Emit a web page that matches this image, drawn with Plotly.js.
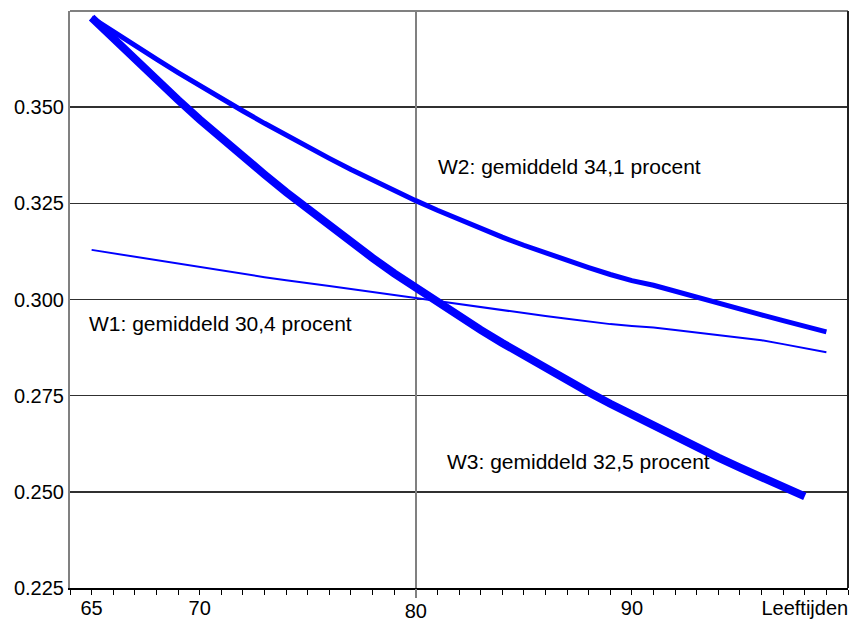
<!DOCTYPE html>
<html>
<head>
<meta charset="utf-8">
<script src="https://cdn.plot.ly/plotly-3.0.1.min.js"></script>
<style>html,body{margin:0;padding:0;background:#fff}#chart{width:853px;height:621px}</style>
</head>
<body>
<div id="chart"></div>
<script>
var ages = [65,66,67,68,69,70,71,72,73,74,75,76,77,78,79,80,81,82,83,84,85,86,87,88,89,90,91,92,93,94,95,96,97,98,99];
var w1 = [0.3129,0.3120,0.3111,0.3102,0.3093,0.3084,0.3075,0.3066,0.3058,0.3050,0.3043,0.3035,0.3027,0.3020,0.3012,0.3004,0.2996,0.2988,0.2981,0.2973,0.2965,0.2957,0.2950,0.2943,0.2936,0.2931,0.2927,0.2921,0.2914,0.2908,0.2901,0.2894,0.2884,0.2873,0.2863];
var w2 = [0.3733,0.3696,0.3660,0.3625,0.3590,0.3556,0.3523,0.3490,0.3458,0.3427,0.3397,0.3367,0.3338,0.3310,0.3283,0.3257,0.3232,0.3208,0.3185,0.3162,0.3141,0.3121,0.3101,0.3083,0.3065,0.3049,0.3037,0.3021,0.3005,0.2990,0.2975,0.2960,0.2945,0.2931,0.2916];
var agesW3 = [65,66,67,68,69,70,71,72,73,74,75,76,77,78,79,80,81,82,83,84,85,86,87,88,89,90,91,92,93,94,95,96,97,98];
var w3 = [0.3733,0.3678,0.3624,0.3570,0.3519,0.3468,0.3419,0.3371,0.3325,0.3279,0.3235,0.3192,0.3150,0.3108,0.3068,0.3030,0.2992,0.2956,0.2921,0.2887,0.2854,0.2822,0.2790,0.2759,0.2729,0.2700,0.2671,0.2643,0.2616,0.2589,0.2563,0.2537,0.2512,0.2488];

var xTickVals = [65,70,90,98];
var xTickText = ['65','70','90','Leeftijden'];
var xGridVals = [80];
var xGridText = ['80'];
var yTickVals = [0.225,0.250,0.275,0.300,0.325,0.350];

var labels = ['W1: gemiddeld 30,4 procent','W2: gemiddeld 34,1 procent','W3: gemiddeld 32,5 procent'];
var labelX = [70.96, 87.1, 87.55];
var labelY = [0.2937, 0.3346, 0.2580];

var blue = '#0000ff';
var font = 'Liberation Sans, Arial, sans-serif';

var traces = [
  {x: ages, y: w1, mode:'lines', line:{color:blue, width:2}, hoverinfo:'skip'},
  {x: ages, y: w2, mode:'lines', line:{color:blue, width:5}, hoverinfo:'skip'},
  {x: agesW3, y: w3, mode:'lines', line:{color:blue, width:8}, hoverinfo:'skip'},
  {x: xGridVals, y: [null], xaxis:'x2', yaxis:'y', mode:'markers', hoverinfo:'skip', showlegend:false}
];

var annotations = labels.map(function(t,i){
  return {x: labelX[i], y: labelY[i], xref:'x', yref:'y', text:t, showarrow:false,
          xanchor:'center', yanchor:'middle', font:{family:font, size:21, color:'#000'}};
});

var layout = {
  width: 853, height: 621,
  margin: {l:70, r:5, t:11, b:33, pad:0},
  paper_bgcolor:'#fff', plot_bgcolor:'#fff',
  showlegend:false,
  font:{family:font, size:20, color:'#000'},
  xaxis: {
    range:[64,100], tickmode:'array', tickvals:xTickVals, ticktext:xTickText,
    showgrid:false, zeroline:false, showline:true, linecolor:'#000', linewidth:2,
    ticks:'outside', ticklen:5, tickcolor:'#000', tickwidth:1, ticklabelstandoff:-4,
    minor:{tickmode:'linear', tick0:65, dtick:1, ticks:'outside', ticklen:5, tickcolor:'#000', tickwidth:1, showgrid:false},
    tickfont:{family:font, size:20, color:'#000'}
  },
  xaxis2: {
    overlaying:'x', anchor:'y', side:'bottom', range:[64,100],
    tickmode:'array', tickvals:xGridVals, ticktext:xGridText,
    showgrid:true, gridcolor:'#808080', gridwidth:2, zeroline:false, showline:false,
    ticks:'outside', ticklen:9, tickcolor:'#808080', tickwidth:2, ticklabelstandoff:-4,
    tickfont:{family:font, size:20, color:'#000'}
  },
  yaxis: {
    range:[0.225,0.375], tickmode:'array', tickvals:yTickVals, tickformat:'.3f',
    showgrid:true, gridcolor:'#303030', gridwidth:1.5, zeroline:false,
    showline:true, linecolor:'#808080', linewidth:2, ticks:'',
    tickfont:{family:font, size:20, color:'#000'}
  },
  shapes: [
    {type:'line', xref:'paper', yref:'paper', x0:0, x1:1, y0:1, y1:1, line:{color:'#808080', width:2}},
    {type:'line', xref:'paper', yref:'paper', x0:1, x1:1, y0:0, y1:1, line:{color:'#202020', width:2}}
  ],
  annotations: annotations
};

Plotly.newPlot('chart', traces, layout, {displayModeBar:false, staticPlot:true});
</script>
</body>
</html>
